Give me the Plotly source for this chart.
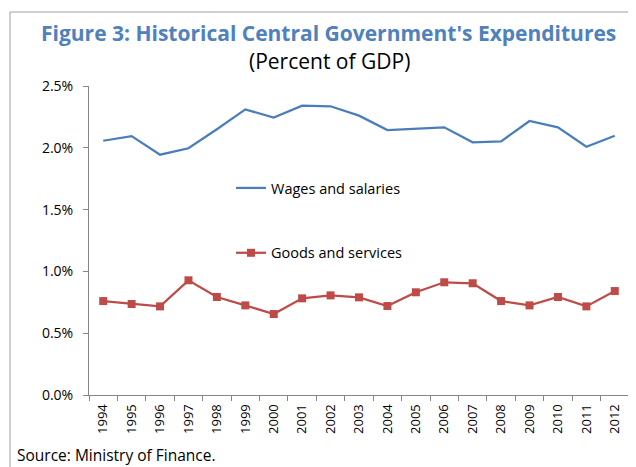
import plotly.graph_objects as go

years = [str(y) for y in range(1994, 2013)]
wages = [2.057, 2.095, 1.944, 1.996, 2.15, 2.311, 2.244, 2.341, 2.336, 2.26, 2.144,
         2.158, 2.166, 2.044, 2.052, 2.217, 2.166, 2.009, 2.098]
goods = [0.760, 0.736, 0.717, 0.928, 0.793, 0.725, 0.655, 0.782, 0.806, 0.790, 0.720,
         0.831, 0.912, 0.904, 0.760, 0.725, 0.793, 0.717, 0.841]
wages = [v / 100 for v in wages]
goods = [v / 100 for v in goods]
ytick_vals = [0, 0.005, 0.01, 0.015, 0.02, 0.025]

BODY = "Open Sans, Noto Sans, sans-serif"

fig = go.Figure()
fig.add_trace(go.Scatter(x=years, y=wages, mode="lines", name="Wages and salaries",
                         legendgroup="a",
                         line=dict(color="#4a7ebb", width=2.25)))
fig.add_trace(go.Scatter(x=years, y=goods, mode="lines+markers", name="Goods and services",
                         legendgroup="b",
                         line=dict(color="#be4b48", width=2.25),
                         marker=dict(symbol="square", size=8, color="#be4b48")))

OFF = 8  # page body margin
W, H = 636 - OFF, 467 - OFF
L, R, T, B = 89 - OFF, 7, 86 - OFF, 467 - 395
pw, ph = W - L - R, H - T - B

def px(x):
    return (x - OFF - L) / pw

def py(y):
    return (H - B - (y - OFF)) / ph

fig.update_layout(
    width=W, height=H,
    margin=dict(l=L, r=R, t=T, b=B),
    paper_bgcolor="white", plot_bgcolor="white",
    showlegend=True,
    legend=dict(x=px(231), y=py(172), xanchor="left", yanchor="top",
                bgcolor="rgba(0,0,0,0)", font=dict(family=BODY, size=14.5, color="black"),
                tracegroupgap=43, itemwidth=30),
    xaxis=dict(type="category", range=[-0.5, len(years) - 0.5],
               showgrid=False, showline=True, linecolor="#868686",
               linewidth=1, ticks="outside", tickson="boundaries", ticklen=5,
               tickcolor="#868686", tickangle=-90, ticklabelstandoff=3,
               tickfont=dict(family=BODY, size=13, color="black"), fixedrange=True),
    yaxis=dict(range=[0, 0.025], tickvals=ytick_vals, tickformat=".1%",
               showgrid=False, showline=True, linecolor="#868686", linewidth=1,
               ticks="outside", ticklen=5, tickcolor="#868686", zeroline=False,
               ticklabelstandoff=7,
               tickfont=dict(family=BODY, size=14, color="black")),
    annotations=[
        dict(text="<b>Figure 3: Historical Central Government's Expenditures</b>",
             xref="paper", yref="paper", x=px(328), y=py(33), xanchor="center",
             yanchor="middle", showarrow=False,
             font=dict(family=BODY, size=21, color="#4f81bd")),
        dict(text="(Percent of GDP)", xref="paper", yref="paper", x=px(329), y=py(61),
             xanchor="center", yanchor="middle", showarrow=False,
             font=dict(family=BODY, size=21, color="black")),
        dict(text="Source: Ministry of Finance.", xref="paper", yref="paper", x=px(15),
             y=py(455), xanchor="left", yanchor="middle", showarrow=False,
             font=dict(family=BODY, size=15.5, color="black")),
    ],
    shapes=[
        dict(type="line", xref="paper", yref="paper", x0=px(10), x1=px(640),
             y0=py(12), y1=py(12), line=dict(color="#a0a0a0", width=1)),
        dict(type="line", xref="paper", yref="paper", x0=px(10), x1=px(10),
             y0=py(12), y1=py(470), line=dict(color="#a0a0a0", width=1)),
    ],
)

fig.write_html("out.html")
